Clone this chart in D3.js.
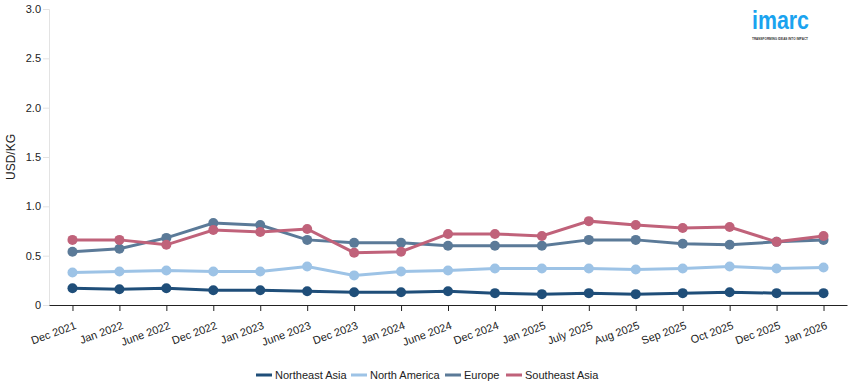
<!DOCTYPE html>
<html>
<head>
<meta charset="utf-8">
<script src="https://cdn.jsdelivr.net/npm/d3@7"></script>
<style>
  body { margin: 0; background: #fff; }
  text { font-family: "Liberation Sans", Arial, sans-serif; }
</style>
</head>
<body>
<div id="wrapper"></div>
<script>
// data
const periods = ["Dec 2021", "Jan 2022", "June 2022", "Dec 2022", "Jan 2023", "June 2023", "Dec 2023",
  "Jan 2024", "June 2024", "Dec 2024", "Jan 2025", "July 2025", "Aug 2025", "Sep 2025", "Oct 2025",
  "Dec 2025", "Jan 2026"];
const northeastAsia = [0.17, 0.16, 0.17, 0.15, 0.15, 0.14, 0.13, 0.13, 0.14, 0.12, 0.11, 0.12, 0.11, 0.12, 0.13, 0.12, 0.12];
const northAmerica = [0.33, 0.34, 0.35, 0.34, 0.34, 0.39, 0.30, 0.34, 0.35, 0.37, 0.37, 0.37, 0.36, 0.37, 0.39, 0.37, 0.38];
const europe = [0.54, 0.57, 0.68, 0.83, 0.81, 0.66, 0.63, 0.63, 0.60, 0.60, 0.60, 0.66, 0.66, 0.62, 0.61, 0.64, 0.66];
const southeastAsia = [0.66, 0.66, 0.61, 0.76, 0.74, 0.77, 0.53, 0.54, 0.72, 0.72, 0.70, 0.85, 0.81, 0.78, 0.79, 0.64, 0.70];
const yTicks = [0, 0.5, 1.0, 1.5, 2.0, 2.5, 3.0];

const series = [
  { name: "Northeast Asia", values: northeastAsia, color: "#1f4e79" },
  { name: "North America", values: northAmerica, color: "#9dc3e6" },
  { name: "Europe", values: europe, color: "#5b7a98" },
  { name: "Southeast Asia", values: southeastAsia, color: "#c0627a" }
];

const width = 855, height = 390;
const margin = { top: 9, right: 8, bottom: 85, left: 49 };

const svg = d3.select("#wrapper")
  .append("svg")
  .attr("width", width)
  .attr("height", height);

const xScale = d3.scalePoint()
  .domain(periods)
  .range([margin.left, width - margin.right])
  .padding(0.5);

const yScale = d3.scaleLinear()
  .domain([0, 3])
  .range([height - margin.bottom, margin.top]);

// y axis (light grey)
const yAxis = svg.append("g")
  .attr("transform", "translate(" + margin.left + ",0)")
  .call(d3.axisLeft(yScale).tickValues(yTicks).tickSize(6)
    .tickFormat(function(d) { return d === 0 ? "0" : d3.format(".1f")(d); }));
yAxis.select(".domain").attr("stroke", "#e3e3e3");
yAxis.selectAll(".tick line").attr("stroke", "#e3e3e3");
yAxis.selectAll("text")
  .attr("fill", "#222")
  .style("font-size", "11px")
  .attr("x", -8);

// x axis (dark)
const xAxis = svg.append("g")
  .attr("transform", "translate(0," + yScale(0) + ")")
  .call(d3.axisBottom(xScale).tickSize(6).tickSizeOuter(0));
xAxis.select(".domain").attr("stroke", "#222");
xAxis.selectAll(".tick line").attr("stroke", "#222");
xAxis.selectAll("text")
  .attr("fill", "#222")
  .style("font-size", "11px")
  .attr("text-anchor", "end")
  .attr("dy", "0")
  .attr("transform", "translate(1,15) rotate(-20)");

// y label
svg.append("text")
  .attr("transform", "translate(15," + ((margin.top + yScale(0)) / 2) + ") rotate(-90)")
  .attr("text-anchor", "middle")
  .style("font-size", "12px")
  .attr("fill", "#222")
  .text("USD/KG");

const line = d3.line()
  .x(function(d, i) { return xScale(periods[i]); })
  .y(function(d) { return yScale(d); });

series.forEach(function(s) {
  const g = svg.append("g");
  g.append("path")
    .datum(s.values)
    .attr("fill", "none")
    .attr("stroke", s.color)
    .attr("stroke-width", 3)
    .attr("d", line);
  g.selectAll("circle")
    .data(s.values)
    .enter()
    .append("circle")
    .attr("cx", function(d, i) { return xScale(periods[i]); })
    .attr("cy", function(d) { return yScale(d); })
    .attr("r", 5)
    .attr("fill", s.color);
});

// legend
const legendX = [256, 351, 445, 506];
const legend = svg.append("g").attr("transform", "translate(0,375)");
series.forEach(function(s, i) {
  legend.append("rect")
    .attr("x", legendX[i])
    .attr("y", -1.5)
    .attr("width", 16)
    .attr("height", 3)
    .attr("fill", s.color);
  legend.append("text")
    .attr("x", legendX[i] + 19)
    .attr("y", 4)
    .style("font-size", "11px")
    .attr("fill", "#222")
    .text(s.name);
});

// logo
const logo = svg.append("g");
logo.append("text")
  .attr("x", 752)
  .attr("y", 29)
  .attr("textLength", 57)
  .attr("lengthAdjust", "spacingAndGlyphs")
  .style("font-size", "25px")
  .style("font-weight", "bold")
  .attr("fill", "#1aa3ef")
  .text("imarc");
logo.append("text")
  .attr("x", 752)
  .attr("y", 40)
  .attr("textLength", 56)
  .attr("lengthAdjust", "spacingAndGlyphs")
  .style("font-size", "4px")
  .style("font-weight", "bold")
  .attr("fill", "#333")
  .text("TRANSFORMING IDEAS INTO IMPACT");
</script>
</body>
</html>
